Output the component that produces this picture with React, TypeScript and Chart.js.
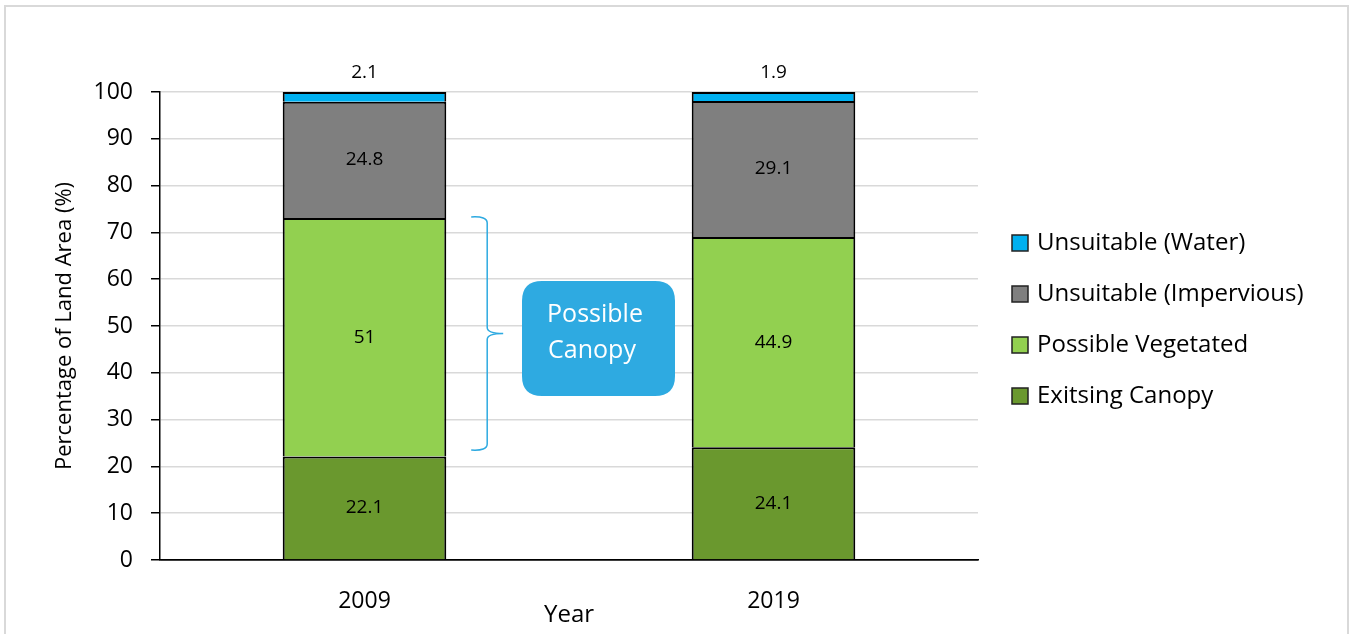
import React, { useEffect, useRef } from 'react';
import { Chart, registerables } from 'chart.js';

Chart.register(...registerables);

const categories = ['2009', '2019'];
const existingCanopy = [22.1, 24.1];
const possibleVegetated = [51, 44.9];
const unsuitableImpervious = [24.8, 29.1];
const unsuitableWater = [2.1, 1.9];
const seriesNames = ['Exitsing Canopy', 'Possible Vegetated', 'Unsuitable (Impervious)', 'Unsuitable (Water)'];
const seriesColors = ['#6a982e', '#92d050', '#7f7f7f', '#00b0f0'];
const yTickValues = [0, 10, 20, 30, 40, 50, 60, 70, 80, 90, 100];
const braceRange = [23.5, 73.3];
const calloutLines = ['Possible', 'Canopy'];

const FONT = '"Open Sans", Lato, sans-serif';

const decorPlugin = {
  id: 'decor',
  beforeDraw(chart: any) {
    const ctx = chart.ctx;
    ctx.save();
    ctx.fillStyle = '#ffffff';
    ctx.fillRect(0, 0, chart.width, chart.height);
    ctx.strokeStyle = '#d9d9d9';
    ctx.lineWidth = 2;
    ctx.strokeRect(5, 6, chart.width - 8, chart.height + 20);
    ctx.restore();
  },
  afterDatasetsDraw(chart: any) {
    const ctx = chart.ctx;
    ctx.save();
    ctx.fillStyle = '#000';
    ctx.font = `19px ${FONT}`;
    ctx.textAlign = 'center';
    ctx.textBaseline = 'middle';
    const n = chart.data.datasets.length;
    chart.data.datasets.forEach((ds: any, di: number) => {
      const meta = chart.getDatasetMeta(di);
      meta.data.forEach((el: any, i: number) => {
        const v = ds.data[i];
        let y = (el.y + el.base) / 2;
        if (di === n - 1) y = el.y - 19;
        ctx.fillText(String(v), el.x, y);
      });
    });
    ctx.restore();
  },
  afterDraw(chart: any) {
    const ctx = chart.ctx;
    const ys = chart.scales.y;
    const area = chart.chartArea;
    ctx.save();
    // legend
    const items = chart.data.datasets.map((d: any) => ({ label: d.label, color: d.backgroundColor })).reverse();
    const rowH = 51;
    const startY = 243;
    items.forEach((it: any, i: number) => {
      const cy = startY + i * rowH;
      ctx.fillStyle = it.color;
      ctx.fillRect(1012, cy - 8, 16, 16);
      ctx.strokeStyle = '#222';
      ctx.lineWidth = 1.5;
      ctx.strokeRect(1012, cy - 8, 16, 16);
      ctx.fillStyle = '#000';
      ctx.font = `24px ${FONT}`;
      ctx.textAlign = 'left';
      ctx.textBaseline = 'middle';
      ctx.fillText(it.label, 1037, cy);
    });
    // brace
    const top = ys.getPixelForValue(braceRange[1]);
    const bot = ys.getPixelForValue(braceRange[0]);
    const mid = (top + bot) / 2;
    const bx = area.left + (area.right - area.left) * 0.40;
    ctx.strokeStyle = '#2eaae1';
    ctx.lineWidth = 1.5;
    ctx.beginPath();
    ctx.moveTo(bx - 16, top);
    ctx.quadraticCurveTo(bx, top - 1, bx, top + 6);
    ctx.lineTo(bx, mid - 6);
    ctx.quadraticCurveTo(bx, mid, bx + 16, mid);
    ctx.quadraticCurveTo(bx, mid, bx, mid + 6);
    ctx.lineTo(bx, bot - 6);
    ctx.quadraticCurveTo(bx, bot + 1, bx - 16, bot);
    ctx.stroke();
    // callout box
    const x0 = 522, y0 = 281, w = 153, h = 115, r = 20;
    ctx.fillStyle = '#2eaae1';
    ctx.beginPath();
    ctx.moveTo(x0 + r, y0);
    ctx.lineTo(x0 + w - r, y0);
    ctx.quadraticCurveTo(x0 + w, y0, x0 + w, y0 + r);
    ctx.lineTo(x0 + w, y0 + h - r);
    ctx.quadraticCurveTo(x0 + w, y0 + h, x0 + w - r, y0 + h);
    ctx.lineTo(x0 + r, y0 + h);
    ctx.quadraticCurveTo(x0, y0 + h, x0, y0 + h - r);
    ctx.lineTo(x0, y0 + r);
    ctx.quadraticCurveTo(x0, y0, x0 + r, y0);
    ctx.closePath();
    ctx.fill();
    ctx.fillStyle = '#ffffff';
    ctx.font = `25px ${FONT}`;
    ctx.textAlign = 'center';
    ctx.textBaseline = 'middle';
    ctx.fillText(calloutLines[0], 595, 315);
    ctx.fillText(calloutLines[1], 592, 351);
    ctx.restore();
  },
};

export default function App() {
  const ref = useRef<HTMLCanvasElement | null>(null);
  useEffect(() => {
    if (!ref.current) return;
    const values = [existingCanopy, possibleVegetated, unsuitableImpervious, unsuitableWater];
    const chart = new Chart(ref.current, {
      type: 'bar',
      data: {
        labels: categories,
        datasets: values.map((d, i) => ({
          label: seriesNames[i],
          data: d,
          backgroundColor: seriesColors[i],
          borderColor: '#000',
          borderWidth: { left: 2, right: 2, top: 2, bottom: 0 },
          borderSkipped: false,
          barPercentage: 0.4,
          categoryPercentage: 1,
        })),
      },
      options: {
        animation: false,
        responsive: false,
        layout: { padding: { left: 0, top: 92, right: 373, bottom: 0 } },
        plugins: { legend: { display: false }, tooltip: { enabled: false } },
        scales: {
          x: {
            stacked: true,
            grid: { display: false },
            border: { display: true, color: '#000', width: 1.5 },
            ticks: { color: '#000', font: { family: FONT, size: 23 }, padding: 20 },
            title: { display: true, text: 'Year', color: '#000', font: { family: FONT, size: 24 }, padding: { top: 0, bottom: 4 } },
            afterFit: (s: any) => { s.height = 74; },
          },
          y: {
            stacked: true,
            min: 0,
            max: 100,
            afterBuildTicks: (s: any) => { s.ticks = yTickValues.map((v) => ({ value: v })); },
            grid: {
              color: (c: any) => (c.tick && c.tick.value === 0 ? '#000' : '#d9d9d9'),
              lineWidth: 1.5,
              tickColor: '#000',
              tickLength: 9,
              drawTicks: true,
            },
            border: { display: true, color: '#000', width: 1.5 },
            ticks: { color: '#000', font: { family: FONT, size: 23 }, padding: 18 },
            title: { display: true, text: 'Percentage of Land Area (%)', color: '#000', font: { family: FONT, size: 22 }, padding: { top: 52, bottom: 0 } },
            afterFit: (s: any) => { s.width = 160; },
          },
        },
      },
      plugins: [decorPlugin],
    } as any);
    return () => chart.destroy();
  }, []);
  return (
    <div style={{ position: 'absolute', left: 0, top: 0, width: 1351, height: 634 }}>
      <canvas ref={ref} width={1351} height={634} style={{ width: 1351, height: 634, display: 'block' }} />
    </div>
  );
}
